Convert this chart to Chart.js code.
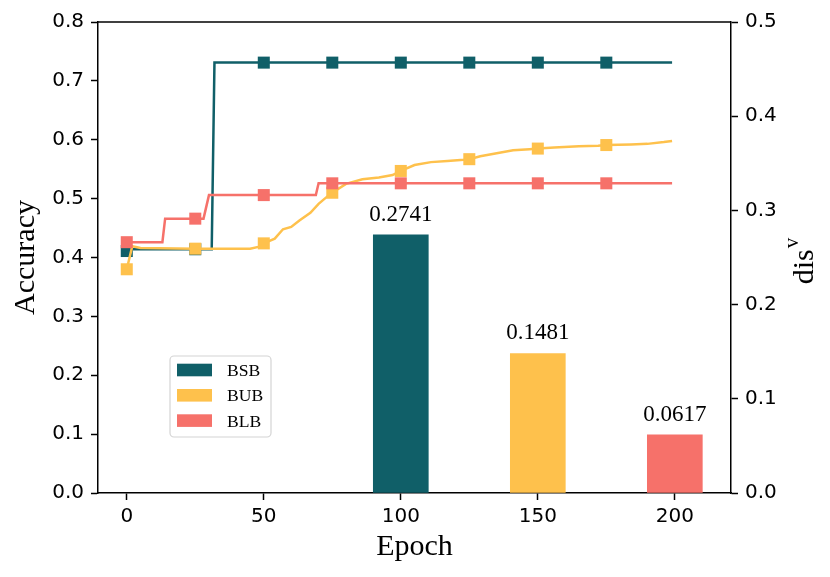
<!DOCTYPE html>
<html>
<head>
<meta charset="utf-8">
<script src="https://cdn.jsdelivr.net/npm/chart.js@4.4.1/dist/chart.umd.min.js"></script>
<style>
  body { margin: 0; background: #fff; }
  #wrap { width: 830px; height: 577px; }
</style>
</head>
<body>
<div id="wrap"><canvas id="chart" width="830" height="577"></canvas></div>
<script>
// ── Data ──────────────────────────────────────────────────
const seriesNames = ['BSB', 'BUB', 'BLB'];
const epochTicks  = [0, 50, 100, 150, 200];
const accTicks    = [0, 0.1, 0.2, 0.3, 0.4, 0.5, 0.6, 0.7, 0.8];
const disTicks    = [0, 0.1, 0.2, 0.3, 0.4, 0.5];
const markerEvery = 25;

const bsbEpochs = [0, 1, 25, 31, 32, 50, 75, 100, 125, 150, 175, 199];
const bsbAcc    = [0.411, 0.414, 0.414, 0.414, 0.731, 0.731, 0.731, 0.731, 0.731, 0.731, 0.731, 0.731];

const bubEpochs = [0, 2, 5, 25, 45, 48, 50, 54, 57, 60, 63, 67, 70, 73, 75, 80, 86, 92, 97, 100,
                   105, 111, 117, 123, 125, 129, 135, 141, 147, 150, 156, 165, 172, 175, 184, 190, 196, 199];
const bubAcc    = [0.380, 0.419, 0.416, 0.415, 0.415, 0.418, 0.424, 0.432, 0.448, 0.452, 0.463, 0.476, 0.491, 0.503, 0.510, 0.525, 0.533, 0.536, 0.540, 0.547,
                   0.557, 0.562, 0.564, 0.566, 0.567, 0.572, 0.577, 0.582, 0.584, 0.585, 0.587, 0.589, 0.590, 0.591, 0.592, 0.593, 0.596, 0.598];

const blbEpochs = [0, 13, 14, 25, 28, 30, 50, 69, 70, 75, 100, 125, 150, 175, 199];
const blbAcc    = [0.426, 0.426, 0.466, 0.466, 0.466, 0.506, 0.506, 0.506, 0.526, 0.526, 0.526, 0.526, 0.526, 0.526, 0.526];

const barEpochs = [100, 150, 200];
const disValues = [0.2741, 0.1481, 0.0617];

const colors = ['#105f68', '#fec14c', '#f6716a'];

const toPoints = (xs, ys) => xs.map((x, i) => ({ x, y: ys[i] }));

function lineDataset(i, xs, ys, order) {
  return {
    type: 'line',
    label: seriesNames[i],
    data: toPoints(xs, ys),
    borderColor: colors[i],
    backgroundColor: colors[i],
    borderWidth: 2.5,
    tension: 0,
    pointStyle: 'rect',
    pointRadius: ctx => (ctx.raw && ctx.raw.x % markerEvery === 0) ? 8.5 : 0,
    pointBorderWidth: 0,
    yAxisID: 'y',
    order,
  };
}

// ── Plugins ───────────────────────────────────────────────
const framePlugin = {
  id: 'frame',
  afterDatasetsDraw(chart) {
    const { ctx, chartArea: a } = chart;
    ctx.save();
    ctx.strokeStyle = '#000';
    ctx.lineWidth = 1.5;
    ctx.beginPath();
    ctx.moveTo(a.left, a.top);
    ctx.lineTo(a.right, a.top);
    ctx.stroke();
    ctx.restore();
  }
};

const barLabelPlugin = {
  id: 'barLabels',
  afterDatasetsDraw(chart) {
    const { ctx } = chart;
    const meta = chart.getDatasetMeta(3);
    ctx.save();
    ctx.font = '23px "Liberation Serif"';
    ctx.fillStyle = '#000';
    ctx.textAlign = 'center';
    ctx.textBaseline = 'alphabetic';
    meta.data.forEach((bar, i) => {
      ctx.fillText(disValues[i].toFixed(4), bar.x, bar.y - 14);
    });
    ctx.restore();
  }
};

const legendPlugin = {
  id: 'insideLegend',
  afterDraw(chart) {
    const { ctx, chartArea: a } = chart;
    const x0 = a.left + 72, y0 = a.top + 334, w = 101, h = 81;
    ctx.save();
    ctx.fillStyle = 'rgba(255,255,255,0.8)';
    ctx.strokeStyle = '#d4d4d4';
    ctx.lineWidth = 1.2;
    ctx.beginPath();
    ctx.roundRect(x0, y0, w, h, 4);
    ctx.fill();
    ctx.stroke();
    ctx.font = '17.6px "Liberation Serif"';
    ctx.textBaseline = 'alphabetic';
    seriesNames.forEach((name, i) => {
      const cy = y0 + 14 + i * 25.3;
      ctx.fillStyle = colors[i];
      ctx.fillRect(x0 + 7, cy - 6.3, 35, 12.6);
      ctx.fillStyle = '#000';
      ctx.fillText(name, x0 + 57, cy + 6);
    });
    ctx.restore();
  }
};

const rightTitlePlugin = {
  id: 'rightTitle',
  afterDraw(chart) {
    const { ctx, chartArea: a } = chart;
    ctx.save();
    ctx.translate(813, (a.top + a.bottom) / 2 + 4);
    ctx.rotate(-Math.PI / 2);
    ctx.fillStyle = '#000';
    ctx.textBaseline = 'alphabetic';
    ctx.font = '30px "Liberation Serif"';
    const w1 = ctx.measureText('dis').width;
    ctx.font = '21px "Liberation Serif"';
    const w2 = ctx.measureText('v').width;
    const start = -(w1 + w2) / 2;
    ctx.font = '30px "Liberation Serif"';
    ctx.fillText('dis', start, 0);
    ctx.font = '21px "Liberation Serif"';
    ctx.fillText('v', start + w1 + 1, -15);
    ctx.restore();
  }
};

// ── Chart ─────────────────────────────────────────────────
const tickFont = { family: 'DejaVu Sans', size: 20 };
const axisGrid = { drawOnChartArea: false, drawTicks: true, tickLength: 7, tickWidth: 1.5, tickColor: '#000', offset: false };
const axisBorder = { display: true, color: '#000', width: 1.5 };

new Chart(document.getElementById('chart'), {
  type: 'line',
  data: {
    datasets: [
      lineDataset(2, blbEpochs, blbAcc, 1),
      lineDataset(1, bubEpochs, bubAcc, 2),
      lineDataset(0, bsbEpochs, bsbAcc, 3),
      {
        type: 'bar',
        label: 'dis',
        data: toPoints(barEpochs, disValues),
        backgroundColor: colors,
        borderWidth: 0,
        barThickness: 55,
        grouped: false,
        yAxisID: 'y2',
        order: 4,
      }
    ]
  },
  options: {
    responsive: false,
    animation: false,
    layout: { padding: { top: 22, left: 0, right: 0, bottom: 0 } },
    plugins: { legend: { display: false }, tooltip: { enabled: false } },
    scales: {
      x: {
        type: 'linear',
        offset: false,
        min: -10.5,
        max: 220.5,
        afterBuildTicks: s => { s.ticks = epochTicks.map(v => ({ value: v })); },
        afterFit: s => { s.height = 84; },
        ticks: { font: tickFont, color: '#000', padding: 5, maxRotation: 0, callback: v => String(v) },
        grid: axisGrid,
        border: axisBorder,
        title: { display: true, text: 'Epoch', color: '#000', font: { family: 'Liberation Serif', size: 30 }, padding: { top: 0, bottom: 12 } },
      },
      y: {
        position: 'left',
        min: 0,
        max: 0.8,
        afterBuildTicks: s => { s.ticks = accTicks.map(v => ({ value: v })); },
        afterFit: s => { s.width = 98; },
        ticks: { font: tickFont, color: '#000', padding: 7, callback: v => v.toFixed(1) },
        grid: axisGrid,
        border: axisBorder,
        title: { display: true, text: 'Accuracy', color: '#000', font: { family: 'Liberation Serif', size: 30 }, padding: { top: 8, bottom: 0 } },
      },
      y2: {
        position: 'right',
        min: 0,
        max: 0.5,
        afterBuildTicks: s => { s.ticks = disTicks.map(v => ({ value: v })); },
        afterFit: s => { s.width = 99; },
        ticks: { font: tickFont, color: '#000', padding: 7, callback: v => v.toFixed(1) },
        grid: axisGrid,
        border: axisBorder,
      }
    }
  },
  plugins: [framePlugin, barLabelPlugin, legendPlugin, rightTitlePlugin]
});
</script>
</body>
</html>
